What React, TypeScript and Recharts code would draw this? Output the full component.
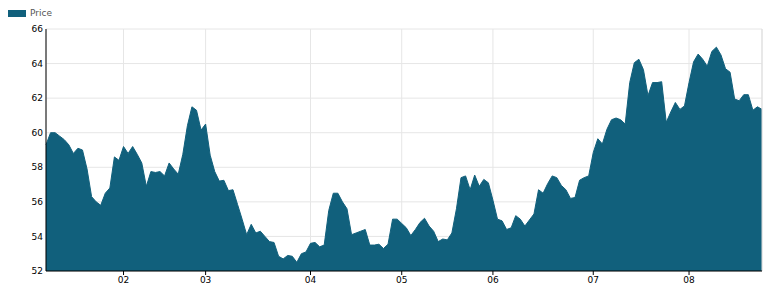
import { AreaChart, Area, XAxis, YAxis, CartesianGrid, ReferenceLine } from "recharts";

// daily closing prices (trading days)
const prices = [
  59.3, 60.0, 60.0, 59.8, 59.6, 59.3, 58.8, 59.1, 59.0, 57.9,
  56.3, 56.0, 55.8, 56.5, 56.8, 58.6, 58.4, 59.2, 58.8, 59.2,
  58.75, 58.25, 56.9, 57.75, 57.7, 57.75, 57.5, 58.25, 57.9, 57.6,
  58.75, 60.4, 61.5, 61.3, 60.15, 60.5, 58.7, 57.75, 57.2, 57.25,
  56.65, 56.7, 55.85, 55.0, 54.1, 54.7, 54.2, 54.3, 54.0, 53.7,
  53.65, 52.85, 52.7, 52.9, 52.85, 52.5, 53.0, 53.1, 53.6, 53.65,
  53.4, 53.5, 55.5, 56.5, 56.5, 56.0, 55.6, 54.1, 54.2, 54.3,
  54.4, 53.5, 53.5, 53.55, 53.3, 53.55, 55.0, 55.0, 54.75, 54.5,
  54.05, 54.4, 54.8, 55.05, 54.6, 54.3, 53.7, 53.85, 53.8, 54.2,
  55.6, 57.4, 57.5, 56.7, 57.55, 56.9, 57.3, 57.1, 56.1, 55.0,
  54.9, 54.4, 54.5, 55.2, 55.0, 54.6, 54.95, 55.3, 56.7, 56.5,
  57.05, 57.5, 57.4, 56.95, 56.7, 56.2, 56.25, 57.25, 57.4, 57.5,
  58.85, 59.65, 59.35, 60.2, 60.75, 60.85, 60.75, 60.5, 62.9, 64.05,
  64.25, 63.65, 62.15, 62.9, 62.9, 62.95, 60.6, 61.2, 61.75, 61.35,
  61.55, 62.9, 64.1, 64.55, 64.25, 63.85, 64.7, 64.95, 64.5, 63.7,
  63.5, 61.95, 61.85, 62.2, 62.2, 61.3, 61.5, 61.35,
];

// index of the first trading day of each month
const monthStarts = [17, 35, 58, 78, 98, 120, 141];
const monthLabels = ["02", "03", "04", "05", "06", "07", "08"];

const yTicks = [52, 54, 56, 58, 60, 62, 64, 66];

const data = prices.map((p, i) => ({ idx: i, price: p }));

const TEAL = "#11607c";
const FONT = "'DejaVu Sans', Verdana, sans-serif";

export default function App() {
  const last = prices.length - 1;
  return (
    <div style={{ position: "absolute", left: 0, top: 0, width: 771, height: 295, background: "#fff" }}>
      <div
        style={{
          position: "absolute",
          left: 8,
          top: 8,
          display: "flex",
          alignItems: "center",
          fontFamily: FONT,
          fontSize: 9,
          lineHeight: "11px",
          color: "#555",
        }}
      >
        <span style={{ display: "inline-block", width: 18, height: 7, background: TEAL, marginRight: 4 }} />
        <span>Price</span>
      </div>
      <AreaChart
        width={771}
        height={295}
        data={data}
        margin={{ top: 29, right: 9, left: 0, bottom: 0 }}
      >
        <CartesianGrid stroke="#e6e6e6" />
        <XAxis
          dataKey="idx"
          type="number"
          domain={[0, last]}
          ticks={monthStarts}
          tickFormatter={(v: number) => monthLabels[monthStarts.indexOf(v)] ?? ""}
          height={24}
          tickSize={4}
          tickMargin={2}
          axisLine={{ stroke: "#000" }}
          tickLine={{ stroke: "#000" }}
          tick={{ fill: "#000", fontSize: 9, fontFamily: FONT }}
          interval={0}
        />
        <YAxis
          type="number"
          domain={[52, 66]}
          ticks={yTicks}
          width={46}
          tickSize={0}
          tickMargin={3}
          axisLine={{ stroke: "#000" }}
          tickLine={false}
          tick={{ fill: "#000", fontSize: 9, fontFamily: FONT }}
          interval={0}
        />
        <ReferenceLine x={last} stroke="#dddddd" />
        <Area
          type="linear"
          dataKey="price"
          stroke={TEAL}
          strokeWidth={1}
          fill={TEAL}
          fillOpacity={1}
          isAnimationActive={false}
          dot={false}
          activeDot={false}
        />
      </AreaChart>
    </div>
  );
}
